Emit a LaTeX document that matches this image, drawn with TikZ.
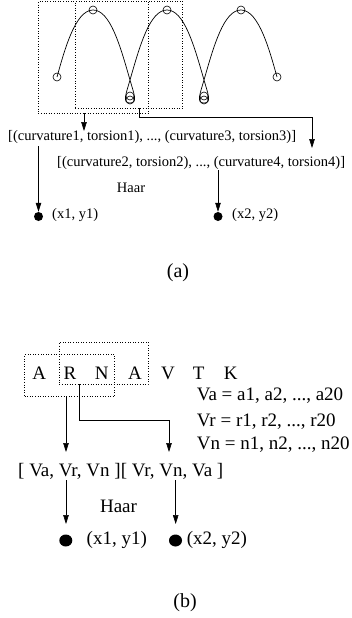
\documentclass[tikz,border=0pt]{standalone}
\usepackage{fontspec}
\setmainfont{Liberation Serif}
\usetikzlibrary{arrows.meta}
\begin{document}
\begin{tikzpicture}[x=1pt,y=-1pt,
 arr/.style={-{Triangle[length=9pt,width=5.5pt]},line width=0.6pt},
 dotbox/.style={draw,dotted,line width=0.6pt,inner sep=0pt},
 ftA/.style={font=\fontsize{14.5}{17}\selectfont, inner sep=0pt},
 ftB/.style={font=\fontsize{19}{22}\selectfont, inner sep=0pt},
 capt/.style={font=\fontsize{20}{24}\selectfont, inner sep=0pt},
 ring/.style={circle,draw,line width=0.6pt,minimum size=8pt,inner sep=0pt},
 blobA/.style={circle,fill,minimum size=9pt,inner sep=0pt},
 blobB/.style={ellipse,fill,minimum width=13pt,minimum height=12pt,inner sep=0pt},
 curve/.style={line width=0.7pt}
]
\usetikzlibrary{shapes.geometric}
\useasboundingbox (0,0) rectangle (351,618);

% ---------- part (a) ----------
\node[dotbox, anchor=north west, minimum width=110pt, minimum height=112pt] (boxA1) at (38,1) {};
\node[dotbox, anchor=north west, minimum width=107pt, minimum height=107pt] (boxA2) at (75,1) {};

\draw[curve] (57,77) .. controls (64,52) and (75,10) .. (93,10)
  .. controls (110,10) and (120,45) .. (130,80)
  .. controls (134,94) and (138,103) .. (130,103)
  .. controls (122,103) and (126,94) .. (130,80)
  .. controls (140,45) and (150,10) .. (167,10)
  .. controls (184,10) and (194,45) .. (204,80)
  .. controls (208,94) and (212,103) .. (204,103)
  .. controls (196,103) and (200,94) .. (204,80)
  .. controls (214,45) and (224,10) .. (241,10)
  .. controls (259,10) and (270,52) .. (277,77);

\node[ring] (c1) at (57,77) {};
\node[ring] (c2) at (93,10) {};
\node[ring] (c3) at (130,96) {};
\node[ring] (c4) at (130,100) {};
\node[ring] (c5) at (167,10) {};
\node[ring] (c6) at (204,96) {};
\node[ring] (c7) at (204,100) {};
\node[ring] (c8) at (241,10) {};
\node[ring] (c9) at (277,77) {};

\node[ftA, anchor=west] (tA1) at (8,137) {[(curvature1, torsion1), ..., (curvature3, torsion3)]};
\node[ftA, anchor=west] (tA2) at (57,163) {[(curvature2, torsion2), ..., (curvature4, torsion4)]};
\node[ftA] (haarA) at (131,188) {Haar};

\node[blobA] (dA1) at (38.5,216.5) {};
\node[blobA] (dA2) at (218,216.5) {};
\node[ftA, anchor=west] (lA1) at (52,215) {(x1, y1)};
\node[ftA, anchor=west] (lA2) at (232,215) {(x2, y2)};

\coordinate (sA1) at (84,113);
\coordinate (eA1) at (84,131);
\coordinate (sA2) at (139,108);
\coordinate (eA2) at (312,148);
\coordinate (sA3) at (38.5,146);
\coordinate (sA4) at (218,170);
\draw[arr] (sA1) -- (eA1);
\draw[arr] (sA2) |- (312,117) -- (eA2);
\draw[arr] (sA3) -- (dA1.north);
\draw[arr] (sA4) -- (dA2.north);

\node[capt] (capA) at (178,273) {(a)};

% ---------- part (b) ----------
\node[dotbox, anchor=north west, minimum width=90pt, minimum height=42pt] (boxB1) at (24.3,354) {};
\node[dotbox, anchor=north west, minimum width=88.7pt, minimum height=42.3pt] (boxB2) at (59,341.7) {};

\node[ftB] (l1) at (39.2,373.3) {A};
\node[ftB] (l2) at (70,373.3) {R};
\node[ftB] (l3) at (101.7,373.3) {N};
\node[ftB] (l4) at (135,373.3) {A};
\node[ftB] (l5) at (168,373.3) {V};
\node[ftB] (l6) at (198.8,373.3) {T};
\node[ftB] (l7) at (230.8,373.3) {K};

\node[ftB, anchor=west] (eq1) at (196.7,396) {Va = a1, a2, ..., a20};
\node[ftB, anchor=west] (eq2) at (196.7,421.7) {Vr = r1, r2, ..., r20};
\node[ftB, anchor=west] (eq3) at (196.7,445) {Vn = n1, n2, ..., n20};

\node[ftB, anchor=west] (vec) at (18,471.7) {[ Va, Vr, Vn ][ Vr, Vn, Va ]};
\node[ftB] (haarB) at (118.5,506.7) {Haar};

\node[blobB] (dB1) at (65.8,540.5) {};
\node[blobB] (dB2) at (175.5,540.5) {};
\node[ftB, anchor=west] (lB1) at (86.5,540) {(x1, y1)};
\node[ftB, anchor=west] (lB2) at (186.7,540) {(x2, y2)};

\coordinate (sB1) at (66,396);
\coordinate (eB1) at (66,452);
\coordinate (sB2) at (79.3,384);
\coordinate (eB2) at (169,452);
\coordinate (sB3) at (66,480);
\coordinate (eB3) at (66,524);
\coordinate (sB4) at (175.7,480);
\coordinate (eB4) at (175.7,524);
\draw[arr] (sB1) -- (eB1);
\draw[arr] (sB2) |- (169,420) -- (eB2);
\draw[arr] (sB3) -- (eB3);
\draw[arr] (sB4) -- (eB4);

\node[capt] (capB) at (185,603) {(b)};
\end{tikzpicture}
\end{document}
